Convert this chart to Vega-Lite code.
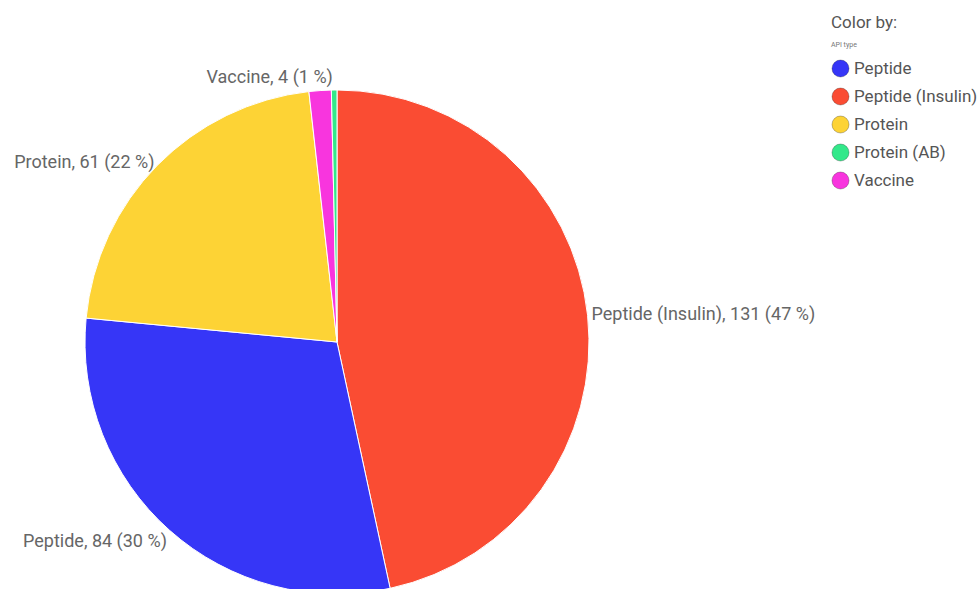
{
  "$schema": "https://vega.github.io/schema/vega-lite/v6.json",
  "width": 674,
  "height": 566,
  "padding": {"left": 0, "top": 14, "right": 0, "bottom": 0},
  "background": "white",
  "title": {
    "text": "Color by:",
    "subtitle": "API type",
    "anchor": "start",
    "frame": "bounds",
    "dx": 831,
    "font": "Roboto",
    "fontSize": 17,
    "fontWeight": "normal",
    "color": "#555555",
    "subtitleFont": "Roboto",
    "subtitleFontSize": 7,
    "subtitleColor": "#777777",
    "subtitlePadding": 9,
    "offset": 10
  },
  "config": {"view": {"stroke": null}},
  "data": {
    "values": [
      {"type": "Peptide (Insulin)", "count": 131, "label": "Peptide (Insulin), 131 (47 %)"},
      {"type": "Peptide", "count": 84, "label": "Peptide, 84 (30 %)"},
      {"type": "Protein", "count": 61, "label": "Protein, 61 (22 %)"},
      {"type": "Vaccine", "count": 4, "label": "Vaccine, 4 (1 %)"},
      {"type": "Protein (AB)", "count": 1, "label": "Protein (AB), 1 (0 %)"}
    ]
  },
  "encoding": {
    "theta": {"field": "count", "type": "quantitative", "stack": true},
    "order": {"field": "count", "type": "quantitative", "sort": "descending"}
  },
  "layer": [
    {
      "mark": {"type": "arc", "outerRadius": 252, "stroke": "white", "strokeWidth": 1},
      "encoding": {
        "color": {
          "field": "type",
          "type": "nominal",
          "scale": {
            "domain": ["Peptide", "Peptide (Insulin)", "Protein", "Protein (AB)", "Vaccine"],
            "range": ["#3636F7", "#FA4C33", "#FDD335", "#33E88A", "#F835DE"]
          },
          "legend": {
            "title": null,
            "orient": "right",
            "offset": 157,
            "padding": 0,
            "symbolType": "circle",
            "symbolSize": 290,
            "symbolStrokeColor": "rgba(0,0,0,0.25)",
            "symbolStrokeWidth": 1,
            "labelFont": "Roboto",
            "labelFontSize": 17,
            "labelColor": "#555555",
            "labelOffset": 4,
            "rowPadding": 5,
            "labelLimit": 300
          }
        }
      }
    },
    {
      "mark": {"type": "text", "radius": 256, "align": "left", "baseline": "middle", "font": "Roboto", "fontSize": 18, "color": "#666666"},
      "encoding": {
        "text": {"condition": {"test": "datum.type === 'Peptide (Insulin)'", "field": "label"}, "value": ""}
      }
    },
    {
      "mark": {"type": "text", "radius": 256, "align": "right", "baseline": "top", "font": "Roboto", "fontSize": 18, "color": "#666666"},
      "encoding": {
        "text": {"condition": {"test": "datum.type === 'Peptide'", "field": "label"}, "value": ""}
      }
    },
    {
      "mark": {"type": "text", "radius": 256, "align": "right", "baseline": "middle", "font": "Roboto", "fontSize": 18, "color": "#666666"},
      "encoding": {
        "text": {"condition": {"test": "datum.type === 'Protein'", "field": "label"}, "value": ""}
      }
    },
    {
      "mark": {"type": "text", "radius": 256, "align": "right", "baseline": "bottom", "dx": 13, "font": "Roboto", "fontSize": 18, "color": "#666666"},
      "encoding": {
        "text": {"condition": {"test": "datum.type === 'Vaccine'", "field": "label"}, "value": ""}
      }
    }
  ]
}
